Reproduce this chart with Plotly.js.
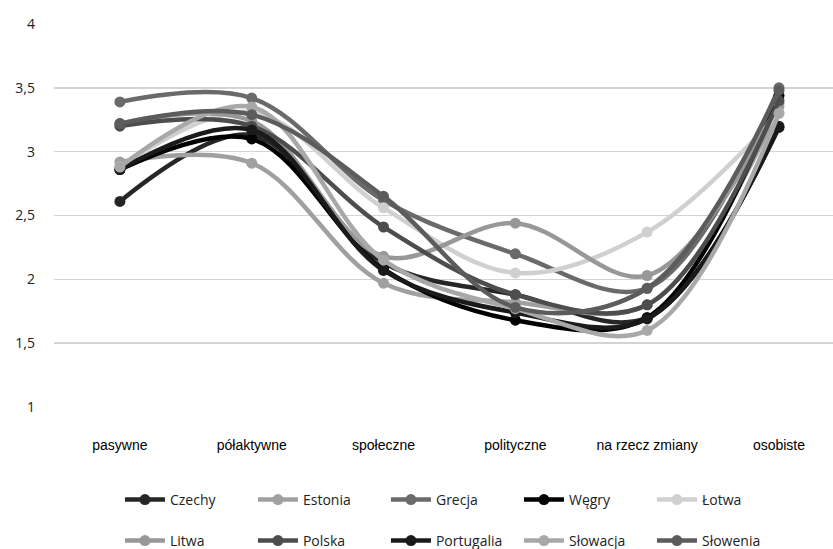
<!DOCTYPE html>
<html>
<head>
<meta charset="utf-8">
<script src="https://cdn.plot.ly/plotly-3.0.1.min.js"></script>
<style>html,body{margin:0;padding:0;background:#fff;}#chart{width:833px;height:549px;}</style>
</head>
<body>
<div id="chart"></div>
<script>
var categories = ["pasywne", "półaktywne", "społeczne", "polityczne", "na rzecz zmiany", "osobiste"];
var yTickVals = [1, 1.5, 2, 2.5, 3, 3.5, 4];
var yTickText = ["1", "1,5", "2", "2,5", "3", "3,5", "4"];

var seriesNames = ["Czechy", "Estonia", "Grecja", "Węgry", "Łotwa", "Litwa", "Polska", "Portugalia", "Słowacja", "Słowenia"];
var czechy     = [2.61, 3.13, 2.13, 1.88, 1.70, 3.20];
var estonia    = [2.92, 2.91, 1.97, 1.82, 1.80, 3.35];
var grecja     = [3.39, 3.42, 2.62, 2.20, 1.93, 3.50];
var wegry      = [2.86, 3.10, 2.08, 1.68, 1.70, 3.44];
var lotwa      = [2.88, 3.31, 2.56, 2.05, 2.37, 3.30];
var litwa      = [3.22, 3.24, 2.18, 2.44, 2.03, 3.38];
var polska     = [3.20, 3.20, 2.41, 1.88, 1.80, 3.40];
var portugalia = [2.86, 3.17, 2.07, 1.74, 1.69, 3.19];
var slowacja   = [2.88, 3.35, 2.15, 1.77, 1.60, 3.30];
var slowenia   = [3.22, 3.29, 2.65, 1.78, 1.93, 3.48];

var seriesValues = [czechy, estonia, grecja, wegry, lotwa, litwa, polska, portugalia, slowacja, slowenia];
var seriesColors = ["#262626", "#a0a0a0", "#6a6a6a", "#000000", "#d0d0d0", "#989898", "#4d4d4d", "#1a1a1a", "#a8a8a8", "#5c5c5c"];

var traces = seriesNames.map(function (name, i) {
  return {
    type: "scatter",
    mode: "lines+markers",
    name: name,
    x: categories,
    y: seriesValues[i],
    line: {color: seriesColors[i], width: 4.5, shape: "spline", smoothing: 1},
    marker: {color: seriesColors[i], size: 11, symbol: "circle"},
    legend: i < 5 ? "legend" : "legend2",
    hoverinfo: "skip"
  };
});

var legendFont = {family: "Open Sans, Liberation Sans, sans-serif", size: 14, color: "#222"};

var layout = {
  width: 833,
  height: 549,
  margin: {l: 54, r: 0, t: 24, b: 142},
  paper_bgcolor: "#ffffff",
  plot_bgcolor: "#ffffff",
  font: {family: "Liberation Sans, Arial, sans-serif", size: 14, color: "#000"},
  xaxis: {
    type: "category",
    range: [-0.5, 5.41],
    showgrid: false,
    zeroline: false,
    showline: false,
    ticks: "",
    ticklabelstandoff: 28,
    tickfont: {family: "Liberation Sans, Arial, sans-serif", size: 14, color: "#000"},
    fixedrange: true
  },
  yaxis: {
    range: [1, 4],
    tickvals: yTickVals,
    ticktext: yTickText,
    showgrid: true,
    gridcolor: "#d4d4d4",
    gridwidth: 1.5,
    zeroline: false,
    showline: false,
    ticks: "",
    ticklabelstandoff: 18,
    tickfont: {family: "Open Sans, Liberation Sans, sans-serif", size: 14, color: "#222"},
    fixedrange: true
  },
  showlegend: true,
  legend: {
    orientation: "h",
    xref: "container", yref: "container",
    x: 0.144, xanchor: "left",
    y: 0.0893, yanchor: "middle",
    entrywidth: 78, entrywidthmode: "pixels",
    itemwidth: 40,
    font: legendFont,
    bgcolor: "rgba(0,0,0,0)"
  },
  legend2: {
    orientation: "h",
    xref: "container", yref: "container",
    x: 0.144, xanchor: "left",
    y: 0.0146, yanchor: "middle",
    entrywidth: 78, entrywidthmode: "pixels",
    itemwidth: 40,
    font: legendFont,
    bgcolor: "rgba(0,0,0,0)"
  }
};

Plotly.newPlot("chart", traces, layout, {displayModeBar: false, staticPlot: true});
</script>
</body>
</html>
